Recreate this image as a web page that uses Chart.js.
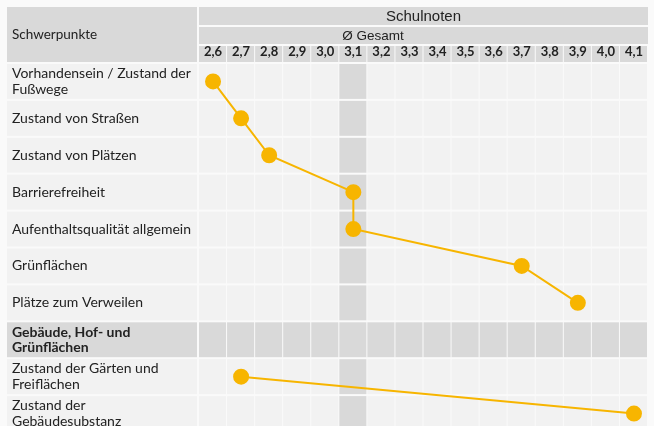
<!DOCTYPE html>
<html lang="de">
<head>
    <meta charset="UTF-8">
    <title>Schulnoten Schwerpunkte</title>
    <script src="https://cdn.jsdelivr.net/npm/chart.js"></script>
    <style>
        html, body {
            margin: 0;
            padding: 0;
            background: #fafafa;
            overflow: hidden;
        }
        #noten {
            display: block;
        }
    </style>
</head>
<body>

<!-- canvas a bit larger than the window: the last row is cut off like in the original -->
<canvas id="noten" width="657" height="441"></canvas>

<script>
    // Schwerpunkte (rows), multi-line labels as arrays
    var schwerpunkte = [
        ['Vorhandensein / Zustand der', 'Fußwege'],
        'Zustand von Straßen',
        'Zustand von Plätzen',
        'Barrierefreiheit',
        'Aufenthaltsqualität allgemein',
        'Grünflächen',
        'Plätze zum Verweilen',
        ['Gebäude, Hof- und', 'Grünflächen'],
        ['Zustand der Gärten und', 'Freiflächen'],
        ['Zustand der', 'Gebäudesubstanz']
    ];
    // Ø Schulnote per row (null = section header row)
    var noten = [2.6, 2.7, 2.8, 3.1, 3.1, 3.7, 3.9, null, 2.7, 4.1];
    var notenSkala = [2.6, 2.7, 2.8, 2.9, 3.0, 3.1, 3.2, 3.3, 3.4, 3.5, 3.6, 3.7, 3.8, 3.9, 4.0, 4.1];
    var gesamtMittel = 3.1;
    var abschnittZeile = 7;

    var hellGrau = '#f2f2f2';
    var dunkelGrau = '#d9d9d9';
    var gelb = '#f7b500';

    // draws the table cells behind the line
    var tabelle = {
        id: 'tabelle',
        beforeDraw: function (chart) {
            var c = chart.ctx;
            var x = chart.scales.x;
            var y = chart.scales.y;
            var area = chart.chartArea;
            var halfCol = (x.getPixelForValue(2.7) - x.getPixelForValue(2.6)) / 2;
            var halfRow = (y.getPixelForValue(1) - y.getPixelForValue(0)) / 2;
            c.save();

            // header
            c.fillStyle = dunkelGrau;
            c.fillRect(7, 7, area.left - 9, area.top - 8);
            c.fillRect(area.left, 7, area.right - area.left, 18);
            c.fillRect(area.left, 27, area.right - area.left, 17);
            notenSkala.forEach(function (v) {
                var px = x.getPixelForValue(v);
                c.fillRect(px - halfCol, 46, halfCol * 2 - 1, area.top - 47);
            });

            // body rows
            schwerpunkte.forEach(function (_, i) {
                var py = y.getPixelForValue(i);
                var top = py - halfRow + 1;
                var h = halfRow * 2 - 2;
                var isSection = i === abschnittZeile;
                c.fillStyle = isSection ? dunkelGrau : hellGrau;
                c.fillRect(7, top, area.left - 9, h);
                notenSkala.forEach(function (v) {
                    var px = x.getPixelForValue(v);
                    c.fillStyle = (isSection || v === gesamtMittel) ? dunkelGrau : hellGrau;
                    c.fillRect(px - halfCol, top, halfCol * 2 - 1, h);
                });
            });

            // header texts
            c.fillStyle = '#222';
            c.textBaseline = 'middle';
            c.textAlign = 'center';
            c.font = '15px "Liberation Sans", Arial, sans-serif';
            c.fillText('Schulnoten', (area.left + area.right) / 2, 17);
            c.font = '13.5px "Liberation Sans", Arial, sans-serif';
            c.fillText('Ø Gesamt', 373, 36);
            c.textAlign = 'left';
            c.font = '13.5px Lato, sans-serif';
            c.fillText('Schwerpunkte', 12, 35);
            c.restore();
        }
    };

    var ctx = document.getElementById('noten').getContext('2d');
    var notenChart = new Chart(ctx, {
        type: 'line',
        data: {
            labels: schwerpunkte,
            datasets: [{
                label: 'Ø Gesamt',
                data: noten,
                borderColor: gelb,
                backgroundColor: gelb,
                pointBackgroundColor: gelb,
                pointBorderColor: gelb,
                borderWidth: 2,
                pointRadius: 7,
                spanGaps: false,
                tension: 0
            }]
        },
        options: {
            indexAxis: 'y',
            responsive: false,
            animation: false,
            layout: {
                padding: {top: 7, left: 12, right: 1, bottom: 7}
            },
            plugins: {
                legend: {display: false},
                tooltip: {enabled: false}
            },
            scales: {
                x: {
                    type: 'linear',
                    position: 'top',
                    min: 2.55,
                    max: 4.15,
                    border: {display: false},
                    grid: {display: false, drawTicks: false},
                    afterFit: function (scale) {
                        scale.height = 56;
                        scale.paddingLeft = 0;
                        scale.paddingRight = 0;
                    },
                    afterBuildTicks: function (scale) {
                        scale.ticks = notenSkala.map(function (v) { return {value: v}; });
                    },
                    ticks: {
                        padding: 3,
                        color: '#222',
                        font: {family: 'Lato', size: 13, weight: 'bold'},
                        maxRotation: 0,
                        autoSkip: false,
                        callback: function (v) {
                            return v.toFixed(1).replace('.', ',');
                        }
                    }
                },
                y: {
                    type: 'category',
                    offset: true,
                    border: {display: false},
                    grid: {display: false, drawTicks: false},
                    afterFit: function (scale) {
                        scale.width = 187;
                        scale.paddingTop = 0;
                        scale.paddingBottom = 0;
                    },
                    ticks: {
                        crossAlign: 'far',
                        color: '#222',
                        autoSkip: false,
                        font: function (c) {
                            return {
                                family: 'Lato',
                                size: 14,
                                lineHeight: 1.1,
                                weight: c.index === abschnittZeile ? 'bold' : 'normal'
                            };
                        }
                    }
                }
            }
        },
        plugins: [tabelle]
    });
</script>
</body>
</html>
